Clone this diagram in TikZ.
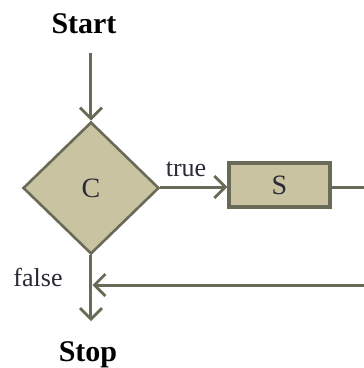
\documentclass[tikz,border=0pt]{standalone}
\usepackage{fontspec}
\setmainfont{Liberation Serif}
\usetikzlibrary{arrows.meta,shapes.geometric}
\definecolor{ln}{HTML}{6A6A58}
\definecolor{fl}{HTML}{C9C3A2}
\definecolor{tx}{HTML}{2A2A36}
\begin{document}
\begin{tikzpicture}[x=1pt,y=-1pt,
  conn/.style={draw=ln,line width=3pt,-{Straight Barb[length=11pt,width=22pt,line width=2.8pt]}},
  plain/.style={draw=ln,line width=3pt},
  title/.style={font=\fontsize{30}{32}\selectfont\bfseries,text=black,inner sep=0pt},
  lbl/.style={font=\fontsize{26}{28}\selectfont,text=tx,inner sep=0pt},
  big/.style={font=\fontsize{28}{30}\selectfont,text=tx,inner sep=0pt}]
\useasboundingbox (0,0) rectangle (364,368);
\node[title,anchor=base] (start) at (84,33) {Start};
\coordinate (top) at (91,53);
\node[diamond,draw=ln,fill=fl,line width=2.6pt,minimum width=136pt,minimum height=132pt,inner sep=0pt,big] (c) at (91,188) {C};
\node[draw=ln,fill=fl,line width=3.2pt,minimum width=101pt,minimum height=44pt,inner sep=0pt,big] (s) at (279.5,185) {S};
\coordinate (r1) at (365,187);
\coordinate (r2) at (365,285);
\coordinate (j) at (91,285);
\coordinate (end) at (91,321);
\node[lbl,anchor=base] (true) at (186,176) {true};
\node[lbl,anchor=base] (false) at (38,286) {false};
\node[title,anchor=base] (stop) at (88,361) {Stop};
\draw[conn] (top) -- (c.north);
\draw[conn] (c.east |- 0,187) -- (s.west |- 0,187);
\draw[plain] (s.east |- 0,187) -- (r1);
\draw[conn] (r2) -- ([xshift=1.5pt]j);
\draw[conn] (c.south) -- (end);
\end{tikzpicture}
\end{document}
